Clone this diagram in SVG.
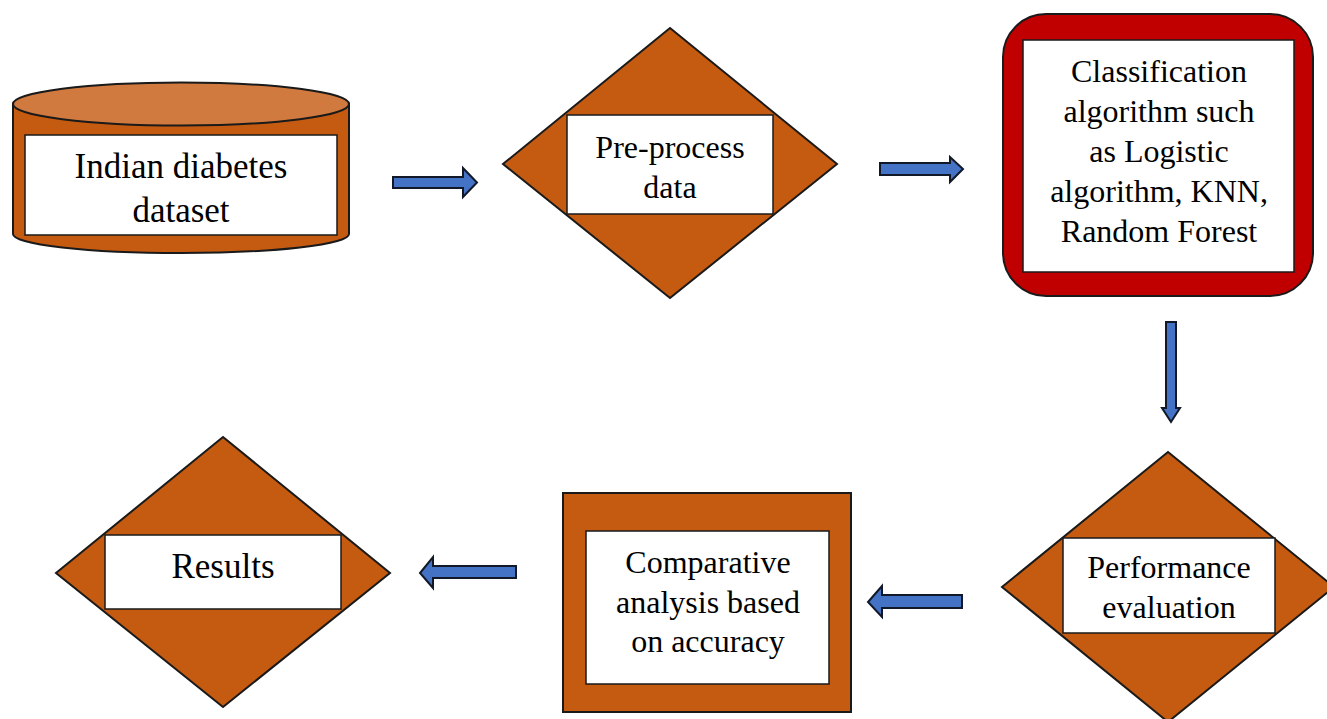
<svg xmlns="http://www.w3.org/2000/svg" width="1327" height="719" viewBox="0 0 1327 719">
<style>
.shape{fill:#C55A11;stroke:#1a1a1a;stroke-width:2}
.box{fill:#ffffff;stroke:#1a1a1a;stroke-width:1.5}
.arrow{fill:#4472C4;stroke:#111827;stroke-width:2;stroke-linejoin:miter}
text{font-family:"Liberation Serif","Times New Roman",serif;fill:#000000;text-anchor:middle}
.t{font-size:32px}
.tl{font-size:35px}
</style>
<rect width="1327" height="719" fill="#ffffff"/>
<g id="connectors">
<path class="arrow" d="M393,177 L463,177 L463,168 L477,182.5 L463,197 L463,188 L393,188 Z"/>
<path class="arrow" d="M880,163 L950,163 L950,157 L963,169 L950,182 L950,175 L880,175 Z"/>
<path class="arrow" d="M1166,322 L1176,322 L1176,408 L1180,408 L1171,422 L1162,408 L1166,408 Z"/>
<path class="arrow" d="M962,595 L882,595 L882,586 L868,602 L882,617 L882,608 L962,608 Z"/>
<path class="arrow" d="M516,566 L433,566 L433,557 L420,573 L433,588 L433,578 L516,578 Z"/>
</g>
<g id="dataset">
<path class="shape" d="M13,104 L13,234 A168,19 0 0 0 349,234 L349,104 Z"/>
<ellipse cx="181" cy="104" rx="168" ry="21.5" fill="#D07A3F" stroke="#1a1a1a" stroke-width="2"/>
<rect class="box" x="25" y="135" width="312" height="100"/>
<text class="tl" x="181" y="178">Indian diabetes</text>
<text class="tl" x="181" y="222">dataset</text>
</g>
<g id="preprocess">
<polygon class="shape" points="670,28 837,164 670,298 503,164"/>
<rect class="box" x="567" y="115" width="206" height="99"/>
<text class="t" x="670" y="158">Pre-process</text>
<text class="t" x="670" y="198">data</text>
</g>
<g id="classification">
<rect x="1003" y="14" width="310" height="282" rx="43" ry="43" fill="#C00000" stroke="#1a1a1a" stroke-width="2"/>
<rect class="box" x="1023" y="40" width="271" height="232"/>
<text class="t" x="1159" y="82">Classification</text>
<text class="t" x="1159" y="122">algorithm such</text>
<text class="t" x="1159" y="162">as Logistic</text>
<text class="t" x="1159" y="202">algorithm, KNN,</text>
<text class="t" x="1159" y="242">Random Forest</text>
</g>
<g id="performance">
<polygon class="shape" points="1168,452 1334,587 1168,722 1002,587"/>
<rect class="box" x="1063" y="538" width="212" height="95"/>
<text class="t" x="1169" y="578">Performance</text>
<text class="t" x="1169" y="618">evaluation</text>
</g>
<g id="comparative">
<rect class="shape" x="563" y="493" width="288" height="219"/>
<rect class="box" x="586" y="531" width="243" height="153"/>
<text class="t" x="708" y="573">Comparative</text>
<text class="t" x="708" y="613">analysis based</text>
<text class="t" x="708" y="652">on accuracy</text>
</g>
<g id="results">
<polygon class="shape" points="223,437 390,573 223,707 56,573"/>
<rect class="box" x="105" y="535" width="236" height="74"/>
<text class="tl" x="223" y="578">Results</text>
</g>
</svg>
